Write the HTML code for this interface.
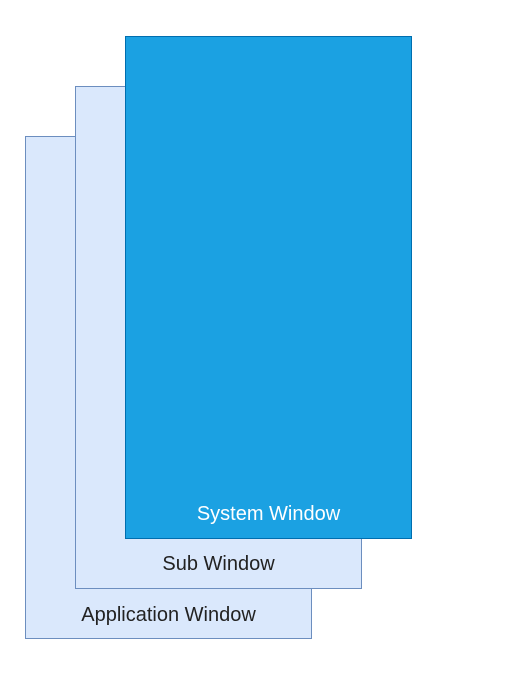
<!DOCTYPE html>
<html><head><meta charset="utf-8"><style>
html,body{margin:0;padding:0;background:#fff;width:507px;height:696px;overflow:hidden;position:relative;font-family:"Liberation Sans",Arial,sans-serif}
.b{position:absolute;box-sizing:border-box;}
.l{position:absolute;width:100%;text-align:center;font-size:20px;left:0}
</style></head><body>
<div class="b" style="left:25px;top:136px;width:287px;height:503px;background:#dae8fc;border:1.5px solid #6c8ebf">
<div class="l" style="top:467px;color:#222">Application Window</div></div>
<div class="b" style="left:75px;top:86px;width:287px;height:503px;background:#dae8fc;border:1.5px solid #6c8ebf">
<div class="l" style="top:466px;color:#222">Sub Window</div></div>
<div class="b" style="left:125px;top:36px;width:287px;height:503px;background:#1ba1e2;border:1.5px solid #006eaf">
<div class="l" style="top:466px;color:#fff">System Window</div></div>
</body></html>
